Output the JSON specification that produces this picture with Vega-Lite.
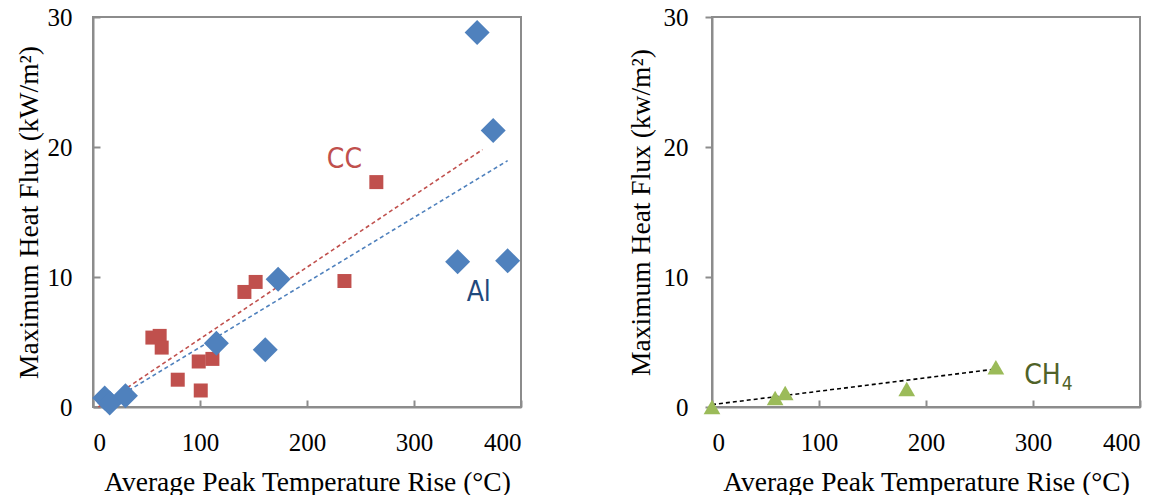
{
  "$schema": "https://vega.github.io/schema/vega-lite/v6.json",
  "padding": {"left": 14, "top": 4, "right": 5, "bottom": 0},
  "background": "white",
  "spacing": 103,
  "hconcat": [
    {
      "width": 428,
      "height": 390,
      "view": {"stroke": "#8c8c8c", "strokeWidth": 2},
      "layer": [
        {
          "data": {
            "values": [
              {"series": "CC", "x": 5, "y": 0.0},
              {"series": "CC", "x": 364, "y": 19.8},
              {"series": "Al", "x": 10.9, "y": 0.15},
              {"series": "Al", "x": 387.5, "y": 18.95}
            ]
          },
          "mark": {"type": "line", "strokeDash": [4, 3], "strokeWidth": 1.6},
          "encoding": {
            "x": {"field": "x", "type": "quantitative"},
            "y": {"field": "y", "type": "quantitative"},
            "detail": {"field": "series"},
            "color": {
              "field": "series",
              "type": "nominal",
              "scale": {"domain": ["Al", "CC"], "range": ["#4f81bd", "#c0504d"]},
              "legend": null
            }
          }
        },
        {
          "data": {
            "values": [
              {"series": "CC", "x": 55.5, "y": 5.34},
              {"series": "CC", "x": 62.3, "y": 5.47},
              {"series": "CC", "x": 64.2, "y": 4.57},
              {"series": "CC", "x": 79.2, "y": 2.1},
              {"series": "CC", "x": 98.8, "y": 3.5},
              {"series": "CC", "x": 111.6, "y": 3.7},
              {"series": "CC", "x": 100.7, "y": 1.27},
              {"series": "CC", "x": 141.5, "y": 8.85},
              {"series": "CC", "x": 152.0, "y": 9.62},
              {"series": "CC", "x": 235.0, "y": 9.69},
              {"series": "CC", "x": 264.8, "y": 17.3}
            ]
          },
          "mark": {"type": "point", "shape": "square", "filled": true, "opacity": 1, "size": 196, "color": "#c0504d"},
          "encoding": {
            "x": {"field": "x", "type": "quantitative"},
            "y": {"field": "y", "type": "quantitative"}
          }
        },
        {
          "data": {
            "values": [
              {"series": "Al", "x": 10.9, "y": 0.69},
              {"series": "Al", "x": 15.6, "y": 0.31},
              {"series": "Al", "x": 30.3, "y": 0.87},
              {"series": "Al", "x": 115.3, "y": 4.91},
              {"series": "Al", "x": 161.0, "y": 4.4},
              {"series": "Al", "x": 173.0, "y": 9.82},
              {"series": "Al", "x": 359.0, "y": 28.8},
              {"series": "Al", "x": 374.0, "y": 21.26},
              {"series": "Al", "x": 340.8, "y": 11.17},
              {"series": "Al", "x": 387.5, "y": 11.25}
            ]
          },
          "mark": {"type": "point", "shape": "diamond", "filled": true, "opacity": 1, "size": 625, "color": "#4f81bd"},
          "encoding": {
            "x": {
              "field": "x",
              "type": "quantitative",
              "scale": {"domain": [0, 400], "nice": false},
              "axis": {
                "values": [0, 100, 200, 300, 400], "grid": false,
                "domainColor": "#8c8c8c", "domainWidth": 2, "tickColor": "#8c8c8c", "tickWidth": 2, "tickSize": -7,
                "labelFont": "Liberation Serif", "labelFontSize": 25, "labelColor": "#000000", "labelPadding": 30,
                "title": "Average Peak Temperature Rise (°C)", "titleFont": "Liberation Serif", "titleFontSize": 27.5,
                "titleFontWeight": "normal", "titleColor": "#000000", "titlePadding": 13
              }
            },
            "y": {
              "field": "y",
              "type": "quantitative",
              "scale": {"domain": [0, 30], "nice": false},
              "axis": {
                "values": [0, 10, 20, 30], "grid": false,
                "domainColor": "#8c8c8c", "domainWidth": 2, "tickColor": "#8c8c8c", "tickWidth": 2, "tickSize": -7,
                "labelFont": "Liberation Serif", "labelFontSize": 25, "labelColor": "#000000", "labelPadding": 28,
                "title": "Maximum Heat Flux (kW/m²)", "titleFont": "Liberation Serif", "titleFontSize": 27.5,
                "titleFontWeight": "normal", "titleColor": "#000000", "titlePadding": 4
              }
            }
          }
        },
        {
          "data": {
            "values": [
              {"label": "CC", "x": 235, "y": 19.0, "color": "#c0504d"},
              {"label": "Al", "x": 360.5, "y": 8.75, "color": "#1f497d"}
            ]
          },
          "mark": {"type": "text", "font": "DejaVu Sans Condensed, Roboto Condensed, Liberation Sans Narrow, sans-serif", "fontSize": 28, "align": "center", "baseline": "middle"},
          "encoding": {
            "x": {"field": "x", "type": "quantitative"},
            "y": {"field": "y", "type": "quantitative"},
            "text": {"field": "label"},
            "color": {"field": "color", "type": "nominal", "scale": null}
          }
        }
      ]
    },
    {
      "width": 428,
      "height": 390,
      "view": {"stroke": "#8c8c8c", "strokeWidth": 2},
      "layer": [
        {
          "data": {
            "values": [
              {"x": 0, "y": 0.18},
              {"x": 265, "y": 2.92}
            ]
          },
          "mark": {"type": "line", "strokeDash": [4, 3], "strokeWidth": 1.6, "color": "#000000"},
          "encoding": {
            "x": {"field": "x", "type": "quantitative"},
            "y": {"field": "y", "type": "quantitative"}
          }
        },
        {
          "data": {
            "values": [
              {"series": "CH4", "x": 0, "y": 0.0},
              {"series": "CH4", "x": 59, "y": 0.69},
              {"series": "CH4", "x": 68.4, "y": 1.08},
              {"series": "CH4", "x": 182, "y": 1.38},
              {"series": "CH4", "x": 265.3, "y": 3.05}
            ]
          },
          "mark": {"type": "point", "shape": "triangle-up", "filled": true, "opacity": 1, "size": 280, "color": "#9bbb59", "clip": false},
          "encoding": {
            "x": {
              "field": "x",
              "type": "quantitative",
              "scale": {"domain": [0, 400], "nice": false},
              "axis": {
                "values": [0, 100, 200, 300, 400], "grid": false,
                "domainColor": "#8c8c8c", "domainWidth": 2, "tickColor": "#8c8c8c", "tickWidth": 2, "tickSize": -7,
                "labelFont": "Liberation Serif", "labelFontSize": 25, "labelColor": "#000000", "labelPadding": 30,
                "title": "Average Peak Temperature Rise (°C)", "titleFont": "Liberation Serif", "titleFontSize": 27.5,
                "titleFontWeight": "normal", "titleColor": "#000000", "titlePadding": 13
              }
            },
            "y": {
              "field": "y",
              "type": "quantitative",
              "scale": {"domain": [0, 30], "nice": false},
              "axis": {
                "values": [0, 10, 20, 30], "grid": false,
                "domainColor": "#8c8c8c", "domainWidth": 2, "tickColor": "#8c8c8c", "tickWidth": 2, "tickSize": 7,
                "labelFont": "Liberation Serif", "labelFontSize": 25, "labelColor": "#000000", "labelPadding": 17,
                "title": "Maximum Heat Flux (kw/m²)", "titleFont": "Liberation Serif", "titleFontSize": 27.5,
                "titleFontWeight": "normal", "titleColor": "#000000", "titlePadding": 8
              }
            }
          }
        },
        {
          "data": {"values": [{"label": "CH", "x": 326, "y": 2.35}]},
          "mark": {"type": "text", "font": "DejaVu Sans Condensed, Roboto Condensed, Liberation Sans Narrow, sans-serif", "fontSize": 28, "align": "right", "baseline": "middle", "color": "#4f6228"},
          "encoding": {
            "x": {"field": "x", "type": "quantitative"},
            "y": {"field": "y", "type": "quantitative"},
            "text": {"field": "label"}
          }
        },
        {
          "data": {"values": [{"label": "4", "x": 326, "y": 2.35}]},
          "mark": {"type": "text", "font": "DejaVu Sans Condensed, Roboto Condensed, Liberation Sans Narrow, sans-serif", "fontSize": 19, "align": "left", "baseline": "middle", "dx": 1, "dy": 8, "color": "#4f6228"},
          "encoding": {
            "x": {"field": "x", "type": "quantitative"},
            "y": {"field": "y", "type": "quantitative"},
            "text": {"field": "label"}
          }
        }
      ]
    }
  ]
}
